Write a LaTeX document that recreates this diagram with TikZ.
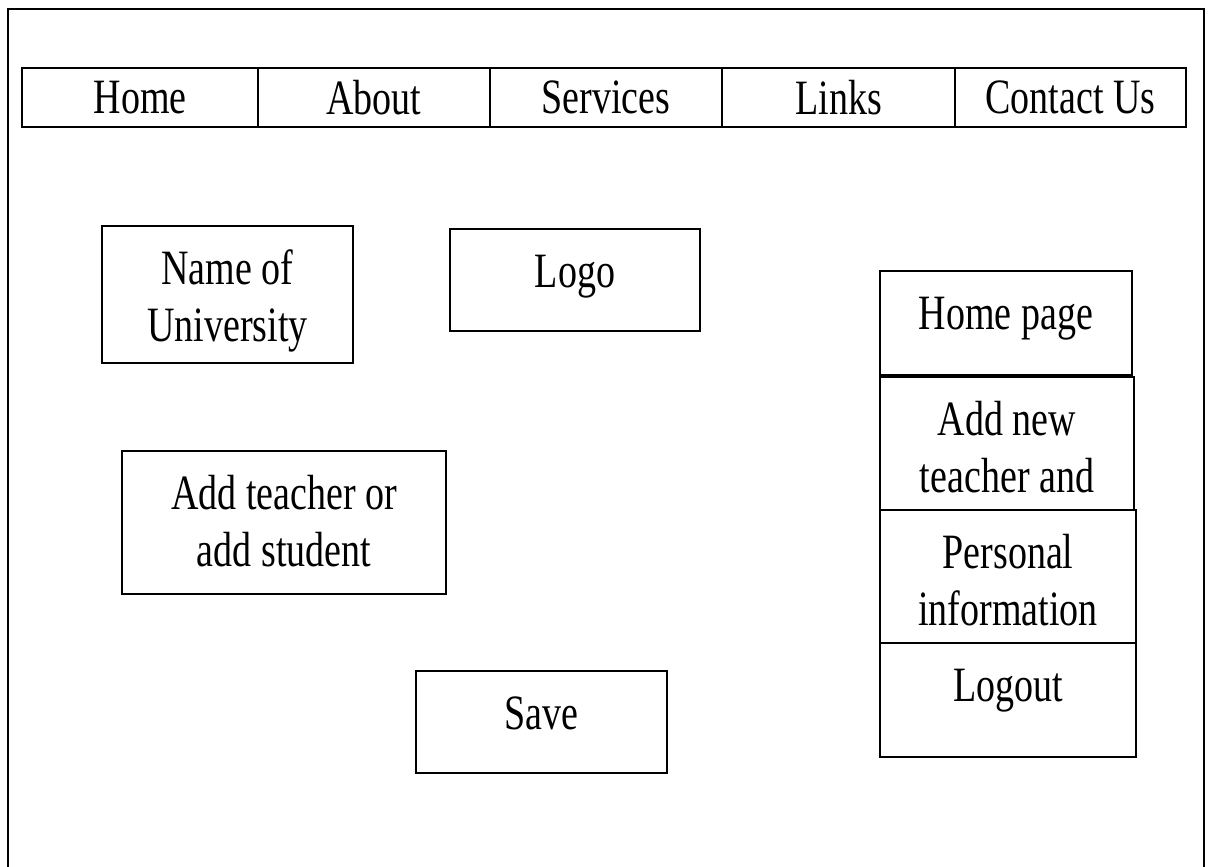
\documentclass[tikz,border=0pt]{standalone}
\usepackage{fontspec}
\setmainfont{Liberation Serif}
\usepackage{graphicx}
\usetikzlibrary{positioning}

\newcommand{\tallText}[1]{\scalebox{1}[1.3]{\begin{tabular}[t]{@{}c@{}}#1\end{tabular}}}

\begin{document}
\begin{tikzpicture}
	[x=1pt, y=-1pt,
	boxstyle/.style={rectangle,draw=black,line width=1.5pt,inner sep=0pt,outer sep=0pt,anchor=north west},
	navstyle/.style={rectangle,draw=black,line width=1.5pt,inner sep=0pt,outer sep=0pt,minimum height=59pt,font=\fontsize{38}{44}\selectfont},
	textstyle/.style={anchor=base,inner sep=0pt,font=\fontsize{38}{44}\selectfont}
	]
	
	%Set params
	\def\textdrop{58pt}
	
	\useasboundingbox (0,0) rectangle (1208,867);
	\clip (0,0) rectangle (1208,867);
	
	%Page frame
	\draw[line width=1.8pt] (8,9) rectangle (1204,900);
	
	%Nav bar
	\node(Home)[navstyle, anchor=north west, minimum width=236pt] at (22,68) {\scalebox{1}[1.3]{Home}};
	\node(About)[navstyle, right = 0pt of Home, minimum width=232pt] {\scalebox{1}[1.3]{About}};
	\node(Services)[navstyle, right = 0pt of About, minimum width=232pt] {\scalebox{1}[1.3]{Services}};
	\node(Links)[navstyle, right = 0pt of Services, minimum width=233pt] {\scalebox{1}[1.3]{Links}};
	\node(Contact)[navstyle, right = 0pt of Links, minimum width=231pt] {\scalebox{1}[1.3]{Contact Us}};
	
	%Left boxes
	\node(University)[boxstyle, minimum width=251pt, minimum height=137pt] at (102,226) {};
	\node(UniversityText)[textstyle] at ([yshift=-\textdrop]University.north) {\tallText{Name of\\University}};
	\node(Logo)[boxstyle, minimum width=250pt, minimum height=102pt] at (450,229) {};
	\node(LogoText)[textstyle] at ([yshift=-\textdrop]Logo.north) {\tallText{Logo}};
	\node(AddPerson)[boxstyle, minimum width=324pt, minimum height=143pt] at (122,451) {};
	\node(AddPersonText)[textstyle] at ([yshift=-\textdrop]AddPerson.north) {\tallText{Add teacher or\\add student}};
	\node(Save)[boxstyle, minimum width=251pt, minimum height=102pt] at (416,671) {};
	\node(SaveText)[textstyle] at ([yshift=-\textdrop]Save.north) {\tallText{Save}};
	
	%Side menu
	\node(HomePage)[boxstyle, minimum width=252pt, minimum height=104pt] at (880,271) {};
	\node(HomePageText)[textstyle] at ([yshift=-\textdrop]HomePage.north) {\tallText{Home page}};
	\node(AddNew)[boxstyle, minimum width=254pt, minimum height=133pt] at (880,377) {};
	\node(AddNewText)[textstyle] at ([yshift=-\textdrop]AddNew.north) {\tallText{Add new\\teacher and}};
	\node(Personal)[boxstyle, minimum width=256pt, minimum height=133pt] at (880,510) {};
	\node(PersonalText)[textstyle] at ([yshift=-\textdrop]Personal.north) {\tallText{Personal\\information}};
	\node(Logout)[boxstyle, minimum width=256pt, minimum height=114pt] at (880,643) {};
	\node(LogoutText)[textstyle] at ([yshift=-\textdrop]Logout.north) {\tallText{Logout}};
	
\end{tikzpicture}
\end{document}
